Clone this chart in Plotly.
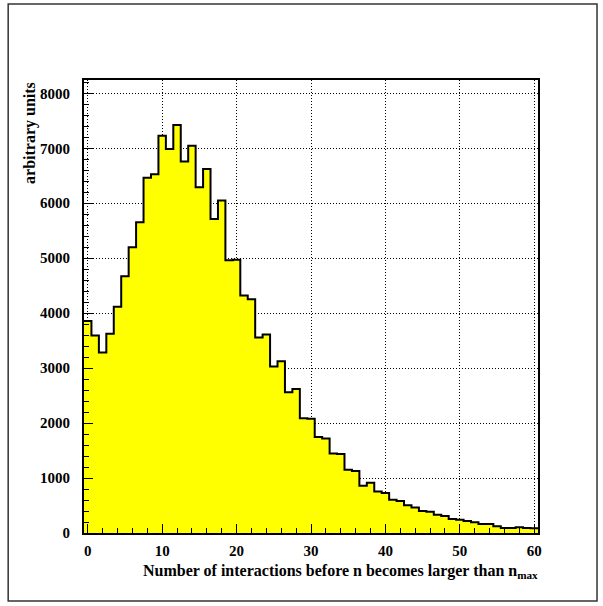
import plotly.graph_objects as go

# bin centers 0..60 (width 1)
bin_centers = list(range(61))
counts = [3855, 3593, 3284, 3627, 4115, 4673, 5200, 5654, 6465, 6527,
          7229, 6987, 7424, 6757, 7048, 6290, 6624, 5715, 6048, 4963,
          4970, 4321, 4254, 3557, 3610, 3030, 3127, 2563, 2618, 2090,
          2080, 1745, 1720, 1448, 1436, 1151, 1127, 860, 915, 757,
          727, 605, 582, 503, 466, 400, 388, 333, 309, 254,
          242, 218, 194, 163, 163, 121, 90, 90, 103, 90,
          85]
x_ticks = [0, 10, 20, 30, 40, 50, 60]
y_ticks = [0, 1000, 2000, 3000, 4000, 5000, 6000, 7000, 8000]

edges = [c - 0.5 for c in bin_centers] + [bin_centers[-1] + 0.5]
step_y = counts + [counts[-1]]

FONT = "Liberation Serif"
tf = dict(family=FONT, size=15, color="black", weight="bold")

fig = go.Figure()
fig.add_trace(go.Scatter(
    x=edges, y=step_y, mode="lines", line_shape="hv",
    line=dict(color="black", width=2),
    fill="tozeroy", fillcolor="#ffff00", showlegend=False,
))

fig.update_layout(
    width=603, height=606,
    margin=dict(l=84, r=65, t=80, b=73),
    paper_bgcolor="white", plot_bgcolor="white",
    font=dict(family=FONT, size=14, color="black"),
    xaxis=dict(
        range=[-0.5, 60.5], tickvals=x_ticks, ticks="inside", ticklen=9,
        tickcolor="black", tickwidth=1,
        minor=dict(ticks="inside", dtick=2, tick0=0, ticklen=5, tickcolor="black", showgrid=False),
        showgrid=True, gridcolor="black", griddash="1px,2px", gridwidth=1,
        showline=True, linecolor="black", linewidth=2, mirror=True,
        zeroline=False, tickfont=tf, ticklabelstandoff=3,
    ),
    yaxis=dict(
        range=[0, 8242], tickvals=y_ticks, ticks="inside", ticklen=9,
        tickcolor="black", tickwidth=1,
        minor=dict(ticks="inside", dtick=200, tick0=0, ticklen=5, tickcolor="black", showgrid=False),
        showgrid=True, gridcolor="black", griddash="1px,2px", gridwidth=1,
        showline=True, linecolor="black", linewidth=2, mirror=True,
        zeroline=False, tickfont=tf, ticklabelstandoff=9,
    ),
    shapes=[dict(type="rect", xref="paper", yref="paper",
                 x0=-0.167, x1=1.130, y0=-0.150, y1=1.168,
                 line=dict(color="#333333", width=1.5), layer="below")],
    annotations=[
        dict(text="Number of interactions before n becomes larger than n<sub>max</sub>",
             xref="paper", yref="paper", x=1.004, y=-0.085, xanchor="right", yanchor="middle",
             showarrow=False, font=dict(family=FONT, size=16, color="black", weight="bold")),
        dict(text="arbitrary units", textangle=-90,
             xref="paper", yref="paper", x=-0.119, y=1.0, xanchor="center", yanchor="top",
             showarrow=False, font=dict(family=FONT, size=16, color="black", weight="bold")),
    ],
)

fig.write_html("out.html")
